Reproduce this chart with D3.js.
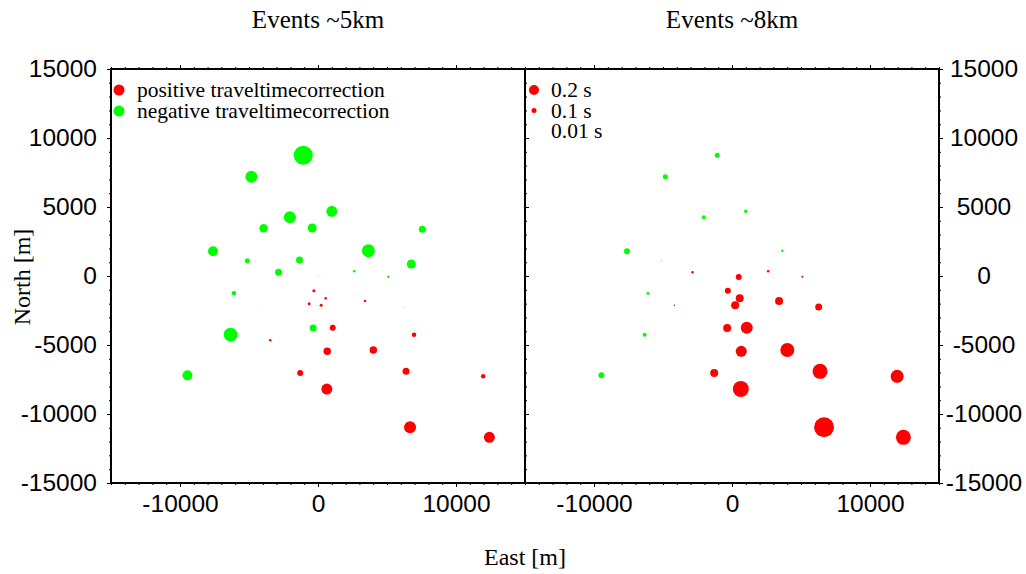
<!DOCTYPE html>
<html>
<head>
<meta charset="utf-8">
<script src="https://cdn.jsdelivr.net/npm/d3@7"></script>
<style>
  body { margin: 0; background: #fff; }
  .tick text { font-family: "Liberation Sans", Arial, sans-serif; font-size: 24.5px; fill: #000; }
  .serif { font-family: "Liberation Serif", "Times New Roman", serif; fill: #000; }
</style>
</head>
<body>
<div id="chart"></div>
<script>
// station positions (m) and travel time corrections (s) for both depth groups
var east  = [-1070, -4830, -2040, -3940, -420, -7610, -5120, -1340, -2860, 1000,
             7560, 3650, 6760, 2620, 5100, 40, 490, -6090, -300, -640,
             230, -4180, 560, 3410, 6280, -350, -6330, -3460, 1070, 6960,
             670, 4010, -1290, 6380, 11970, -9460, 640, 6670, 12420];
var north = [8750, 7200, 4250, 3460, 3480, 1790, 1110, 1160, 270, 4690,
             3380, 1830, 870, 340, -60, 70, -70, -1250, -1070, -2010,
             -2120, -2120, -1620, -1810, -2250, -3770, -4250, -4660, -3750, -4250,
             -5460, -5360, -7030, -6910, -7270, -7200, -8190, -10960, -11690];
var corr5 = [-0.38, -0.24, -0.24, -0.17, -0.18, -0.20, -0.10, -0.14, -0.14, -0.22,
             -0.14, -0.26, -0.18, -0.05, -0.05, 0.015, -0.015, -0.09, 0.06, 0.06,
             0.06, -0.012, 0.05, 0.05, 0.015, -0.14, -0.28, 0.05, 0.12, 0.09,
             0.15, 0.15, 0.12, 0.14, 0.09, -0.20, 0.22, 0.24, 0.22];
var corr8 = [-0.10, -0.10, -0.08, 0, 0, -0.12, -0.02, 0, 0.05, -0.07,
             0, -0.05, 0, 0.05, 0.04, 0, 0.12, -0.06, 0.12, 0,
             0.16, 0.03, 0.16, 0.16, 0.14, 0.16, -0.08, 0, 0.24, 0,
             0.22, 0.28, 0.16, 0.30, 0.26, -0.12, 0.32, 0.40, 0.30];

var titles = ["Events ~5km", "Events ~8km"];
var xMajor = [-10000, 0, 10000];
var yMajor = [-15000, -10000, -5000, 0, 5000, 10000, 15000];
var legendSizes = [0.2, 0.1, 0.01];
var legendNames = ["positive traveltimecorrection", "negative traveltimecorrection"];

var W = 1026, H = 574;
var frameTop = 69, frameBottom = 483, panelW = 414;
var panels = [{x0: 111, corr: corr5}, {x0: 525, corr: corr8}];

var svg = d3.select("#chart").append("svg")
  .attr("width", W).attr("height", H);

var y = d3.scaleLinear().domain([-15000, 15000]).range([frameBottom, frameTop]);
// symbol diameter proportional to |correction|
var r = d3.scaleLinear().domain([0, 0.2]).range([0, 5]);
var minor = d3.range(-15000, 15001, 1000);

var rows = east.map(function(e, i) { return {e: e, n: north[i], i: i}; });

panels.forEach(function(p, k) {
  var x = d3.scaleLinear().domain([-15000, 15000]).range([p.x0, p.x0 + panelW]);
  var g = svg.append("g");

  // title
  g.append("text").attr("class", "serif")
    .attr("x", p.x0 + panelW / 2).attr("y", 28)
    .attr("text-anchor", "middle").style("font-size", "25px")
    .text(titles[k]);

  // minor ticks on all four sides
  g.append("g").attr("transform", "translate(0," + frameBottom + ")")
    .call(d3.axisBottom(x).tickValues(minor).tickSize(2).tickFormat(""));
  g.append("g").attr("transform", "translate(0," + frameTop + ")")
    .call(d3.axisTop(x).tickValues(minor).tickSize(2).tickFormat(""));
  g.append("g").attr("transform", "translate(" + (p.x0 + panelW) + ",0)")
    .call(d3.axisRight(y).tickValues(minor).tickSize(2).tickFormat(""));
  if (k == 0) {
    g.append("g").attr("transform", "translate(" + p.x0 + ",0)")
      .call(d3.axisLeft(y).tickValues(minor).tickSize(2).tickFormat(""));
  }

  // major ticks + labels
  g.append("g").attr("transform", "translate(0," + frameBottom + ")")
    .call(d3.axisBottom(x).tickValues(xMajor).tickSize(4).tickPadding(8).tickFormat(d3.format("d")));
  g.append("g").attr("transform", "translate(0," + frameTop + ")")
    .call(d3.axisTop(x).tickValues(xMajor).tickSize(4).tickFormat(""));
  if (k == 0) {
    g.append("g").attr("transform", "translate(" + p.x0 + ",0)")
      .call(d3.axisLeft(y).tickValues(yMajor).tickSize(4).tickPadding(10).tickFormat(d3.format("d")));
    g.append("g").attr("transform", "translate(" + (p.x0 + panelW) + ",0)")
      .call(d3.axisRight(y).tickValues(yMajor).tickSize(4).tickFormat(""));
  } else {
    var ra = g.append("g").attr("transform", "translate(" + (p.x0 + panelW) + ",0)")
      .call(d3.axisRight(y).tickValues(yMajor).tickSize(4).tickFormat(d3.format("d")));
    // GMT centres the right-hand annotations
    ra.selectAll(".tick text").attr("x", 45).attr("text-anchor", "middle");
  }

  g.selectAll(".domain").remove();
  g.selectAll(".tick line").attr("stroke", "#000").attr("stroke-width", 1);
  g.selectAll(".tick text").text(function() { return this.textContent.replace("\u2212", "-"); });

  // frame
  g.append("rect")
    .attr("x", p.x0).attr("y", frameTop)
    .attr("width", panelW).attr("height", frameBottom - frameTop)
    .attr("fill", "none").attr("stroke", "#000").attr("stroke-width", 2);

  // stations
  g.append("g").selectAll("circle")
    .data(rows.filter(function(d) { return p.corr[d.i] != 0; }))
    .enter().append("circle")
      .attr("cx", function(d) { return x(d.e); })
      .attr("cy", function(d) { return y(d.n); })
      .attr("r", function(d) { return r(Math.abs(p.corr[d.i])); })
      .attr("fill", function(d) { return p.corr[d.i] > 0 ? "#ff0000" : "#00ff00"; });
});

// legend, left panel: polarity
legendNames.forEach(function(t, i) {
  var ly = 90 + i * 21;
  svg.append("circle").attr("cx", 119).attr("cy", ly).attr("r", 5.5)
    .attr("fill", i == 0 ? "#ff0000" : "#00ff00");
  svg.append("text").attr("class", "serif")
    .attr("x", 137).attr("y", ly + 7).style("font-size", "21.5px").text(t);
});

// legend, right panel: symbol size
legendSizes.forEach(function(s, i) {
  var ly = 90 + i * 20.5;
  svg.append("circle").attr("cx", 534).attr("cy", ly).attr("r", r(s))
    .attr("fill", "#ff0000");
  svg.append("text").attr("class", "serif")
    .attr("x", 551).attr("y", ly + 7).style("font-size", "21.5px").text(s + " s");
});

// axis titles
svg.append("text").attr("class", "serif")
  .attr("x", 525).attr("y", 565).attr("text-anchor", "middle")
  .style("font-size", "24px").text("East [m]");
svg.append("text").attr("class", "serif")
  .attr("transform", "translate(30,277) rotate(-90)").attr("text-anchor", "middle")
  .style("font-size", "24px").text("North [m]");
</script>
</body>
</html>
